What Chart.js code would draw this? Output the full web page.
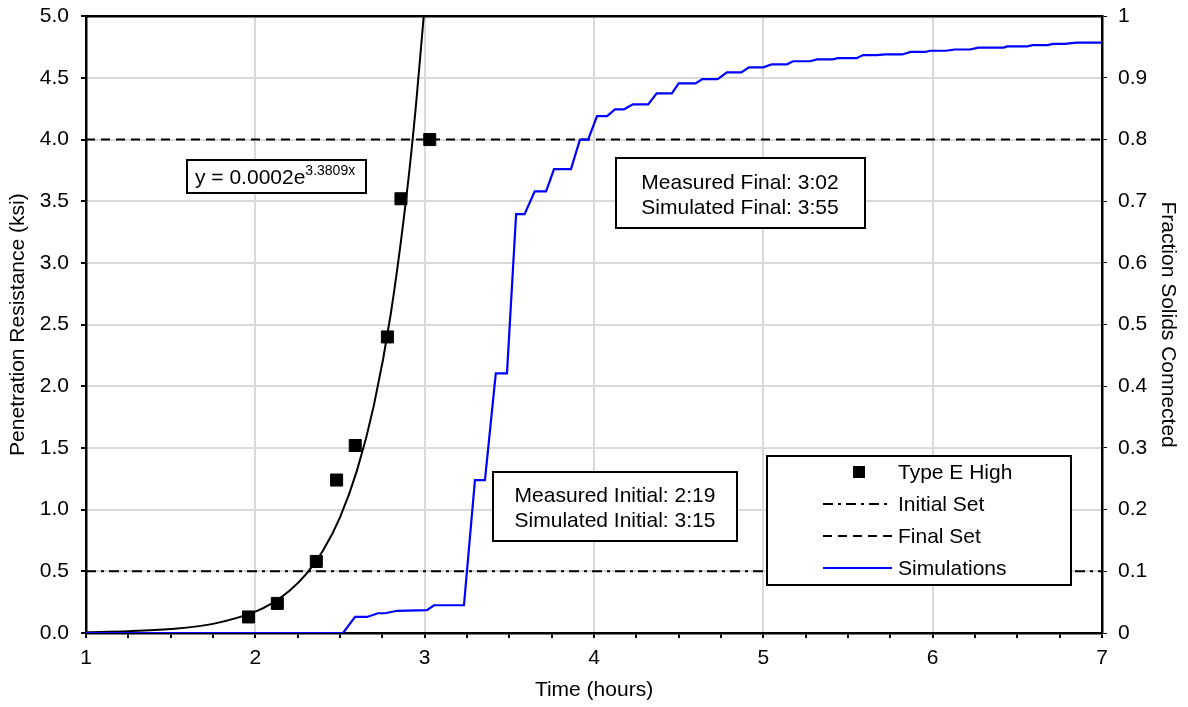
<!DOCTYPE html>
<html>
<head>
<meta charset="utf-8">
<script src="https://cdn.jsdelivr.net/npm/chart.js@4/dist/chart.umd.min.js"></script>
<style>
  body { margin: 0; background: #fff; }
  #wrap { width: 1188px; height: 707px; position: relative; }
</style>
</head>
<body>
<div id="wrap"><canvas id="setChart"></canvas></div>
<script>
// Measured penetration resistance (Type E High), hours vs ksi
var typeEX = [1.96, 2.13, 2.36, 2.48, 2.59, 2.78, 2.86, 3.03];
var typeEY = [0.13, 0.24, 0.58, 1.24, 1.52, 2.40, 3.52, 4.00];

// Exponential trendline (y = 0.0002e^3.3809x)
var fitX = [1.0, 1.25, 1.5, 1.75, 2.0, 2.1, 2.2, 2.3, 2.4, 2.5, 2.6, 2.7, 2.8, 2.9, 2.95, 3.0];
var fitY = [0.006, 0.014, 0.032, 0.074, 0.173, 0.242, 0.340, 0.477, 0.669, 0.938, 1.316, 1.845, 2.588, 3.63, 4.30, 5.09];

// Simulated fraction of solids connected (right axis)
var simX = [1.0, 2.518, 2.589, 2.66, 2.724, 2.766, 2.837, 3.014, 3.055, 3.232, 3.297, 3.356, 3.42, 3.486,
            3.54, 3.59, 3.65, 3.717, 3.764, 3.864, 3.917, 3.965, 4.018, 4.077, 4.124, 4.177, 4.23, 4.32,
            4.37, 4.46, 4.50, 4.60, 4.64, 4.73, 4.785, 4.87, 4.915, 5.0, 5.05, 5.14, 5.175, 5.276, 5.317,
            5.41, 5.44, 5.55, 5.59, 5.67, 5.72, 5.82, 5.87, 5.955, 5.985, 6.08, 6.13, 6.22, 6.27, 6.42,
            6.44, 6.56, 6.59, 6.68, 6.71, 6.78, 6.85, 7.0];
var simY = [0, 0, 0.026, 0.026, 0.032, 0.032, 0.036, 0.037, 0.045, 0.045, 0.248, 0.248, 0.421, 0.421,
            0.679, 0.679, 0.716, 0.716, 0.752, 0.752, 0.80, 0.80, 0.838, 0.838, 0.849, 0.849, 0.857, 0.857,
            0.875, 0.875, 0.891, 0.891, 0.898, 0.898, 0.909, 0.909, 0.917, 0.917, 0.922, 0.922, 0.927, 0.927, 0.930,
            0.930, 0.932, 0.932, 0.937, 0.937, 0.938, 0.938, 0.942, 0.942, 0.944, 0.944, 0.946, 0.946, 0.949, 0.949,
            0.951, 0.951, 0.953, 0.953, 0.955, 0.955, 0.957, 0.957];

// Set thresholds (ksi)
var initialSet = 0.5;
var finalSet = 4.0;
var xRange = [1, 7];

var annotations = {
  fit: ['y = 0.0002e', '3.3809x'],
  final: ['Measured Final: 3:02', 'Simulated Final: 3:55'],
  initial: ['Measured Initial: 2:19', 'Simulated Initial: 3:15']
};
var legendLabels = ['Type E High', 'Initial Set', 'Final Set', 'Simulations'];

function pts(xs, ys) {
  return xs.map(function(x, i) { return { x: x, y: ys[i] }; });
}

var FONT = '"Liberation Sans", Arial, sans-serif';
Chart.defaults.font.family = FONT;
Chart.defaults.font.size = 21;
Chart.defaults.color = '#000';

var DASHDOT = [10, 5, 3, 5];
var DASH = [9, 6];

var overlays = {
  id: 'overlays',
  afterDatasetsDraw: function(chart) {
    var ctx = chart.ctx, a = chart.chartArea;
    ctx.save();
    // top border of the plot frame
    ctx.strokeStyle = '#000';
    ctx.lineWidth = 2.5;
    ctx.beginPath();
    ctx.moveTo(a.left, a.top);
    ctx.lineTo(a.right, a.top);
    ctx.stroke();

    function box(x, y, w, h) {
      ctx.fillStyle = '#fff';
      ctx.fillRect(x, y, w, h);
      ctx.strokeStyle = '#000';
      ctx.lineWidth = 2;
      ctx.setLineDash([]);
      ctx.strokeRect(x, y, w, h);
    }

    ctx.fillStyle = '#000';
    ctx.textBaseline = 'middle';

    // trendline equation
    box(187, 160, 179, 33);
    ctx.fillStyle = '#000';
    ctx.font = '21px ' + FONT;
    ctx.textAlign = 'left';
    ctx.fillText(annotations.fit[0], 195, 178);
    var w = ctx.measureText(annotations.fit[0]).width;
    ctx.font = '14px ' + FONT;
    ctx.fillText(annotations.fit[1], 195 + w, 171);

    // final set box
    box(616, 158, 249, 70);
    ctx.fillStyle = '#000';
    ctx.font = '21px ' + FONT;
    ctx.textAlign = 'center';
    ctx.fillText(annotations.final[0], 740, 183);
    ctx.fillText(annotations.final[1], 740, 208);

    // initial set box
    box(493, 472, 244, 69);
    ctx.fillStyle = '#000';
    ctx.fillText(annotations.initial[0], 615, 496);
    ctx.fillText(annotations.initial[1], 615, 521);

    // legend
    box(767, 456, 304, 129);
    var rows = [472, 504, 536, 568];
    ctx.textAlign = 'left';
    ctx.fillStyle = '#000';
    ctx.font = '21px ' + FONT;
    legendLabels.forEach(function(t, i) { ctx.fillText(t, 898, rows[i] + 1); });
    ctx.fillRect(853, rows[0] - 6, 12, 12);
    ctx.lineWidth = 2;
    ctx.strokeStyle = '#000';
    ctx.setLineDash(DASHDOT);
    ctx.beginPath(); ctx.moveTo(823, rows[1]); ctx.lineTo(892, rows[1]); ctx.stroke();
    ctx.setLineDash(DASH);
    ctx.beginPath(); ctx.moveTo(823, rows[2]); ctx.lineTo(892, rows[2]); ctx.stroke();
    ctx.setLineDash([]);
    ctx.strokeStyle = '#0000ff';
    ctx.beginPath(); ctx.moveTo(823, rows[3]); ctx.lineTo(892, rows[3]); ctx.stroke();
    ctx.restore();
  }
};

var ctx = document.getElementById('setChart').getContext('2d');
var setChart = new Chart(ctx, {
  type: 'scatter',
  data: {
    datasets: [
      {
        label: 'Type E High',
        data: pts(typeEX, typeEY),
        backgroundColor: '#000',
        borderColor: '#000',
        pointStyle: 'rect',
        pointRadius: 8.5,
        showLine: false,
        yAxisID: 'y',
        order: 0
      },
      {
        label: 'Simulations',
        data: pts(simX, simY),
        showLine: true,
        borderColor: '#0000ff',
        borderWidth: 2.2,
        pointRadius: 0,
        tension: 0,
        yAxisID: 'y1',
        order: 1
      },
      {
        label: 'Fit',
        data: pts(fitX, fitY),
        showLine: true,
        borderColor: '#000',
        borderWidth: 2,
        pointRadius: 0,
        cubicInterpolationMode: 'monotone',
        yAxisID: 'y',
        order: 2
      },
      {
        label: 'Initial Set',
        data: pts(xRange, [initialSet, initialSet]),
        showLine: true,
        borderColor: '#000',
        borderWidth: 2,
        borderDash: DASHDOT,
        pointRadius: 0,
        yAxisID: 'y',
        order: 3
      },
      {
        label: 'Final Set',
        data: pts(xRange, [finalSet, finalSet]),
        showLine: true,
        borderColor: '#000',
        borderWidth: 2,
        borderDash: DASH,
        pointRadius: 0,
        yAxisID: 'y',
        order: 3
      }
    ]
  },
  options: {
    responsive: true,
    maintainAspectRatio: false,
    animation: false,
    layout: { padding: { top: 16, left: 0, right: 0, bottom: 0 } },
    plugins: {
      legend: { display: false },
      tooltip: { enabled: false }
    },
    scales: {
      x: {
        type: 'linear',
        min: 1,
        max: 7,
        afterFit: function(s) { s.height = 74; },
        ticks: {
          stepSize: 0.25,
          autoSkip: false,
          maxRotation: 0,
          padding: 8,
          callback: function(v) { return Number.isInteger(v) ? String(v) : ''; }
        },
        grid: {
          color: function(c) { return Number.isInteger(c.tick && c.tick.value) ? '#d9d9d9' : 'rgba(0,0,0,0)'; },
          lineWidth: 2,
          tickColor: '#000',
          tickLength: 5
        },
        border: { color: '#000', width: 2.5 },
        title: { display: true, text: 'Time (hours)', padding: { top: 0, bottom: 4 } }
      },
      y: {
        position: 'left',
        min: 0,
        max: 5,
        afterFit: function(s) { s.width = 86; },
        ticks: {
          stepSize: 0.5,
          padding: 12,
          font: { lineHeight: 0.4 },
          callback: function(v) { return v.toFixed(1); }
        },
        grid: { color: '#d9d9d9', lineWidth: 2, tickColor: '#000', tickLength: 5 },
        border: { color: '#000', width: 2.5 },
        title: { display: true, text: 'Penetration Resistance (ksi)', padding: { top: 6, bottom: 0 } }
      },
      y1: {
        position: 'right',
        min: 0,
        max: 1,
        afterFit: function(s) { s.width = 86; },
        ticks: {
          stepSize: 0.1,
          padding: 11,
          font: { lineHeight: 0.4 },
          callback: function(v) { return String(+v.toFixed(1)); }
        },
        grid: { drawOnChartArea: false, tickColor: '#000', tickLength: 5 },
        border: { color: '#000', width: 2.5 },
        title: { display: true, text: 'Fraction Solids Connected', padding: { top: 8, bottom: 0 } }
      }
    }
  },
  plugins: [overlays]
});
</script>
</body>
</html>
